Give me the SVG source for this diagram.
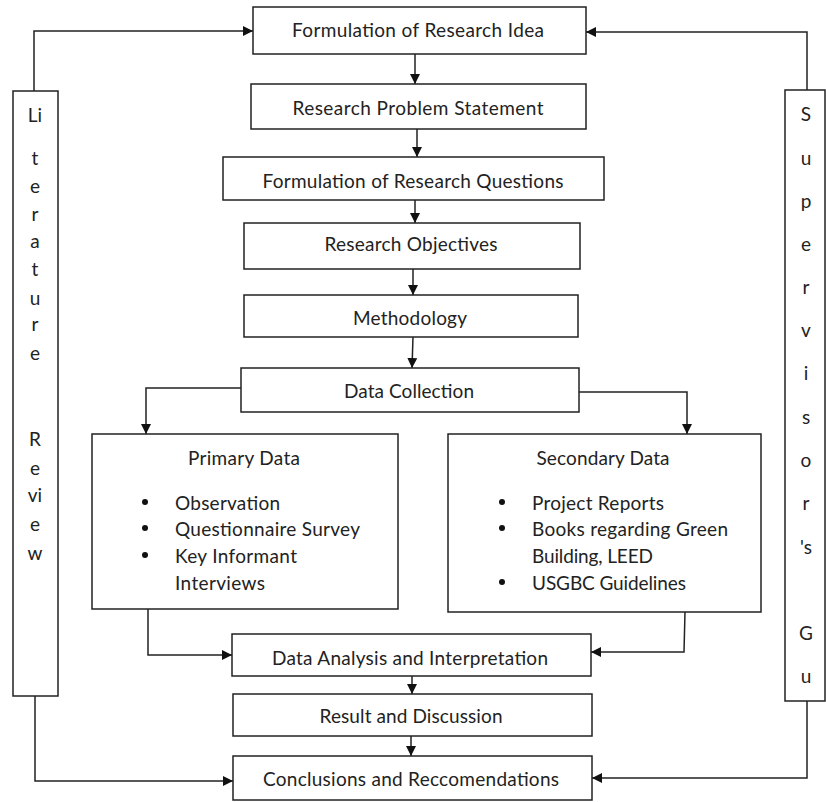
<svg xmlns="http://www.w3.org/2000/svg" width="826" height="802" viewBox="0 0 826 802">
<style>
.box{fill:#fff;stroke:#222;stroke-width:1.5}
.t{font-family:Lato,"Liberation Sans",sans-serif;font-size:19px;fill:#222;dominant-baseline:central}
.c{text-anchor:middle}
.dot{fill:#111}
.ln{fill:none;stroke:#222;stroke-width:1.5}
</style>
<defs>
<marker id="ah" viewBox="0 0 10 10" refX="10" refY="5" markerWidth="10" markerHeight="10" markerUnits="userSpaceOnUse" orient="auto">
<path d="M0,0 L10,5 L0,10 z" fill="#111"/>
</marker>
</defs>
<rect width="826" height="802" fill="#fff"/>
<g id="connectors">
<line class="ln" x1="415" y1="54" x2="415" y2="84" marker-end="url(#ah)"/>
<line class="ln" x1="417" y1="129" x2="417" y2="157" marker-end="url(#ah)"/>
<line class="ln" x1="415" y1="200" x2="415" y2="223" marker-end="url(#ah)"/>
<line class="ln" x1="413" y1="269" x2="413" y2="295" marker-end="url(#ah)"/>
<line class="ln" x1="413" y1="337" x2="412" y2="368" marker-end="url(#ah)"/>
<polyline class="ln" points="241,388 146,388 146,434" marker-end="url(#ah)"/>
<polyline class="ln" points="579,392 687,392 687,434" marker-end="url(#ah)"/>
<polyline class="ln" points="148,609 148,655 232,655" marker-end="url(#ah)"/>
<polyline class="ln" points="685,612 684,652 591,652" marker-end="url(#ah)"/>
<line class="ln" x1="412" y1="676" x2="412" y2="694" marker-end="url(#ah)"/>
<line class="ln" x1="411" y1="736" x2="411" y2="756" marker-end="url(#ah)"/>
<polyline class="ln" points="34,91 34,31 253,31" marker-end="url(#ah)"/>
<polyline class="ln" points="35,696 35,781 233,781" marker-end="url(#ah)"/>
<polyline class="ln" points="807,90 807,32 586,32" marker-end="url(#ah)"/>
<polyline class="ln" points="807,701 807,778 592,778" marker-end="url(#ah)"/>
</g>
<g id="idea"><rect class="box" x="253" y="7" width="333" height="47"/><text class="t c" x="418" y="29" textLength="252">Formulation of Research Idea</text></g>
<g id="problem"><rect class="box" x="251" y="84" width="335" height="45"/><text class="t c" x="418" y="107" textLength="251">Research Problem Statement</text></g>
<g id="questions"><rect class="box" x="223" y="157" width="381" height="43"/><text class="t c" x="413" y="180" textLength="301">Formulation of Research Questions</text></g>
<g id="objectives"><rect class="box" x="244" y="223" width="336" height="46"/><text class="t c" x="411" y="243" textLength="173">Research Objectives</text></g>
<g id="methodology"><rect class="box" x="244" y="295" width="334" height="42"/><text class="t c" x="410" y="317" textLength="114">Methodology</text></g>
<g id="collection"><rect class="box" x="241" y="368" width="338" height="44"/><text class="t c" x="409" y="390" textLength="130">Data Collection</text></g>
<g id="primary"><rect class="box" x="92" y="434" width="306" height="175"/>
<text class="t c" x="244" y="457" textLength="112">Primary Data</text>
<circle class="dot" cx="145" cy="502" r="3"/><text class="t" x="175" y="502" textLength="105">Observation</text>
<circle class="dot" cx="145" cy="528" r="3"/><text class="t" x="175" y="528" textLength="185">Questionnaire Survey</text>
<circle class="dot" cx="145" cy="555" r="3"/><text class="t" x="175" y="555" textLength="122">Key Informant</text>
<text class="t" x="175" y="582" textLength="90">Interviews</text>
</g>
<g id="secondary"><rect class="box" x="448" y="434" width="313" height="178"/>
<text class="t c" x="603" y="457" textLength="133">Secondary Data</text>
<circle class="dot" cx="502" cy="502" r="3"/><text class="t" x="532" y="502" textLength="132">Project Reports</text>
<circle class="dot" cx="502" cy="528" r="3"/><text class="t" x="532" y="528" textLength="196">Books regarding Green</text>
<text class="t" x="532" y="555" textLength="121">Building, LEED</text>
<circle class="dot" cx="502" cy="582" r="3"/><text class="t" x="532" y="582" textLength="154">USGBC Guidelines</text>
</g>
<g id="analysis"><rect class="box" x="232" y="634" width="359" height="42"/><text class="t c" x="410" y="657" textLength="276">Data Analysis and Interpretation</text></g>
<g id="result"><rect class="box" x="233" y="694" width="359" height="42"/><text class="t c" x="411" y="715" textLength="183">Result and Discussion</text></g>
<g id="conclusions"><rect class="box" x="233" y="756" width="359" height="44"/><text class="t c" x="411" y="778" textLength="296">Conclusions and Reccomendations</text></g>
<g id="literature"><rect class="box" x="13" y="91" width="45" height="605"/>
<text class="t c" x="35" y="114">Li</text>
<text class="t c" x="35" y="157">t</text>
<text class="t c" x="35" y="185">e</text>
<text class="t c" x="35" y="213">r</text>
<text class="t c" x="35" y="240">a</text>
<text class="t c" x="35" y="268">t</text>
<text class="t c" x="35" y="297">u</text>
<text class="t c" x="35" y="323">r</text>
<text class="t c" x="35" y="352">e</text>
<text class="t c" x="35" y="438">R</text>
<text class="t c" x="35" y="467">e</text>
<text class="t c" x="35" y="494">vi</text>
<text class="t c" x="35" y="523">e</text>
<text class="t c" x="35" y="552">w</text>
</g>
<g id="supervisor"><rect class="box" x="785" y="90" width="40" height="611"/>
<text class="t c" x="806" y="113">S</text>
<text class="t c" x="806" y="157">u</text>
<text class="t c" x="806" y="200">p</text>
<text class="t c" x="806" y="243">e</text>
<text class="t c" x="806" y="286">r</text>
<text class="t c" x="806" y="329">v</text>
<text class="t c" x="806" y="372">i</text>
<text class="t c" x="806" y="416">s</text>
<text class="t c" x="806" y="459">o</text>
<text class="t c" x="806" y="502">r</text>
<text class="t c" x="806" y="546">'s</text>
<text class="t c" x="806" y="632">G</text>
<text class="t c" x="806" y="675">u</text>
</g>
</svg>
